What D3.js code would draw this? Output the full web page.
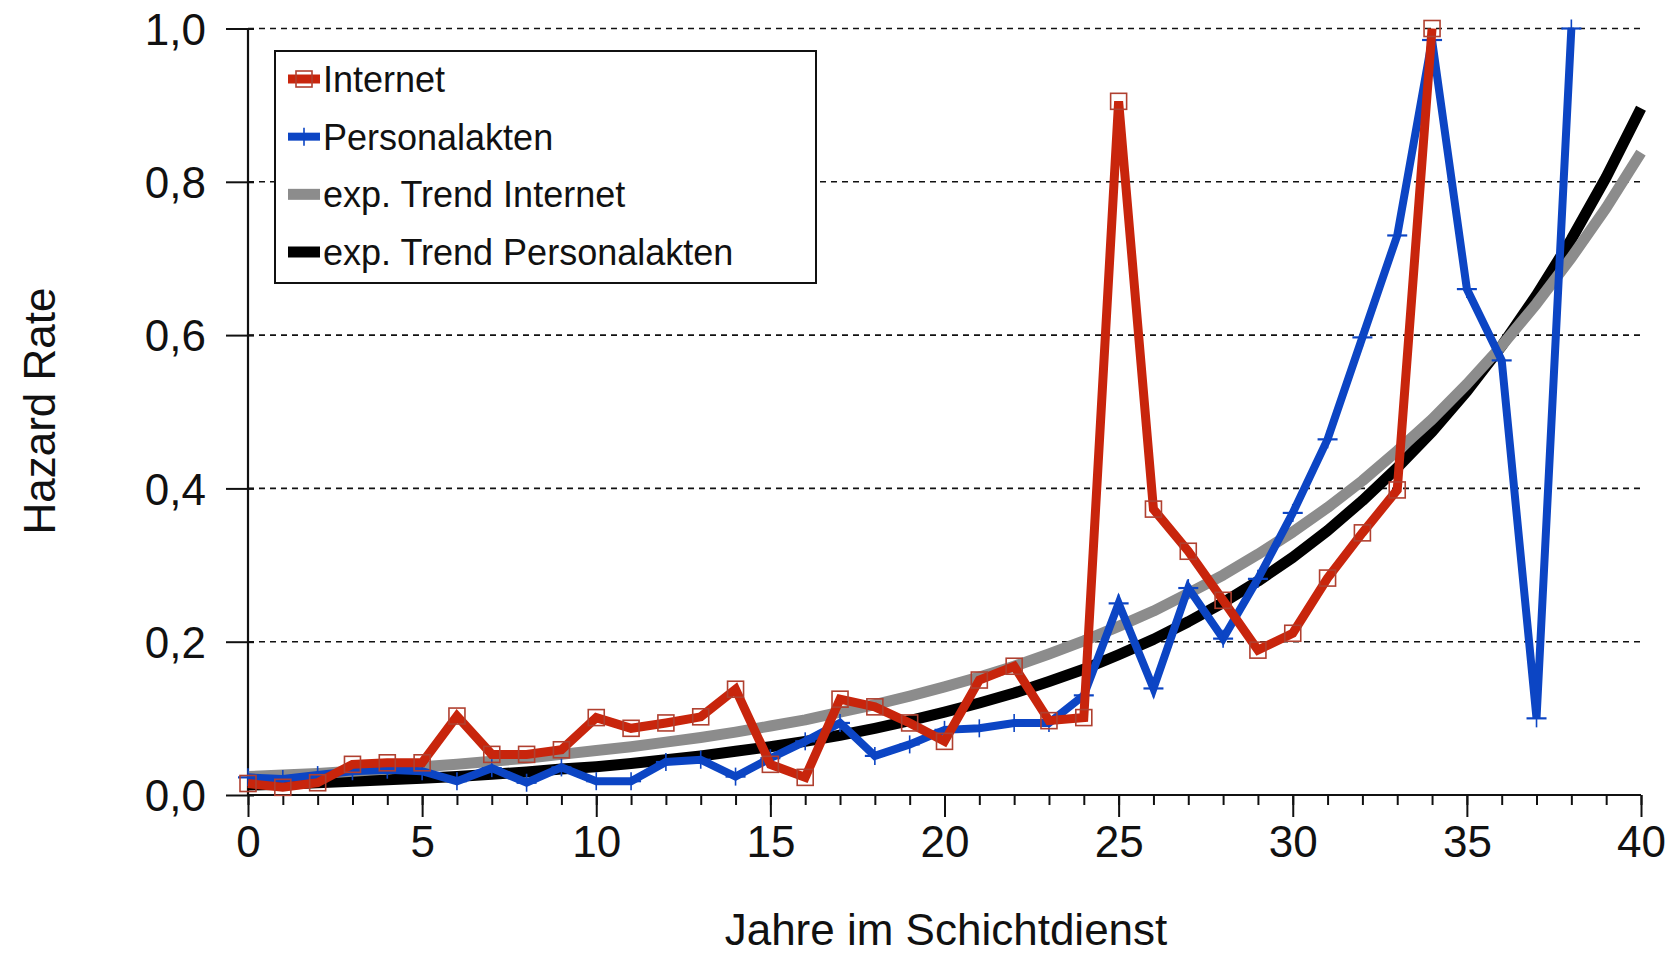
<!DOCTYPE html>
<html>
<head>
<meta charset="utf-8">
<script src="https://cdn.jsdelivr.net/npm/d3@7"></script>
<style>
  html, body { margin: 0; padding: 0; background: #fff; }
  svg { display: block; }
  text { font-family: "Liberation Sans", Arial, sans-serif; fill: #111; }
</style>
</head>
<body>
<svg id="chart" width="1674" height="957"></svg>
<script>
// Years of shift work (0..40)
const years = d3.range(0, 41);

// Hazard rates per year, source: Internet
const internet = [0.015, 0.010, 0.016, 0.040, 0.042, 0.042, 0.103, 0.053, 0.053, 0.059,
                  0.101, 0.087, 0.094, 0.102, 0.138, 0.040, 0.023, 0.125, 0.115, 0.094,
                  0.070, 0.150, 0.168, 0.097, 0.101, 0.905, 0.373, 0.318, 0.254, 0.189,
                  0.211, 0.283, 0.342, 0.398, 1.000];

// Hazard rates per year, source: Personalakten
const personalakten = [0.023, 0.021, 0.026, 0.031, 0.033, 0.031, 0.018, 0.035, 0.016, 0.036,
                       0.018, 0.018, 0.043, 0.046, 0.024, 0.048, 0.070, 0.094, 0.051, 0.066,
                       0.085, 0.087, 0.094, 0.094, 0.130, 0.250, 0.139, 0.270, 0.204, 0.282,
                       0.368, 0.464, 0.597, 0.730, 0.985, 0.660, 0.567, 0.100, 1.000];

// Exponential trend lines, one value per year
const trendInternet = [0.024, 0.026, 0.028, 0.031, 0.034, 0.037, 0.040, 0.044, 0.048, 0.053,
                       0.058, 0.063, 0.069, 0.075, 0.082, 0.090, 0.098, 0.108, 0.118, 0.129,
                       0.141, 0.154, 0.168, 0.184, 0.201, 0.220, 0.240, 0.263, 0.287, 0.314,
                       0.343, 0.375, 0.410, 0.449, 0.490, 0.536, 0.586, 0.641, 0.701, 0.766,
                       0.838];
const trendPersonalakten = [0.013, 0.014, 0.016, 0.018, 0.020, 0.022, 0.024, 0.027, 0.030, 0.034,
                            0.037, 0.041, 0.046, 0.051, 0.057, 0.063, 0.070, 0.078, 0.087, 0.097,
                            0.108, 0.120, 0.133, 0.148, 0.164, 0.183, 0.203, 0.226, 0.251, 0.279,
                            0.310, 0.345, 0.384, 0.427, 0.474, 0.527, 0.586, 0.652, 0.725, 0.806,
                            0.896];

// Axis tick values and labels
const xTicksMajor = [0, 5, 10, 15, 20, 25, 30, 35, 40];
const yTicks = [0, 0.2, 0.4, 0.6, 0.8, 1.0];
const yGrid = [0.2, 0.4, 0.6, 0.8, 1.0];
const legendLabels = ["Internet", "Personalakten", "exp. Trend Internet", "exp. Trend Personalakten"];

const colors = {
  internet: "#c8250c",
  internetMarker: "#b04030",
  personal: "#0c45c4",
  trendInternet: "#8c8c8c",
  trendPersonal: "#000000"
};

const svg = d3.select("#chart");

const x = d3.scaleLinear().domain([0, 40]).range([248, 1641]);
const y = d3.scaleLinear().domain([0, 1]).range([795, 28.5]);

// Dashed horizontal gridlines
svg.append("g")
  .selectAll("line")
  .data(yGrid)
  .join("line")
  .attr("x1", x(0)).attr("x2", x(40))
  .attr("y1", d => y(d)).attr("y2", d => y(d))
  .attr("stroke", "#111")
  .attr("stroke-width", 1.6)
  .attr("stroke-dasharray", "6,5");

// X axis: minor ticks every year, long ticks every five years
const xAxisMinor = d3.axisBottom(x).tickValues(years).tickSize(10).tickFormat("");
const xAxisMajor = d3.axisBottom(x).tickValues(xTicksMajor).tickSize(22).tickPadding(8)
  .tickFormat(d3.format("d"));

const gxMinor = svg.append("g").attr("transform", `translate(0,${y(0)})`).call(xAxisMinor);
gxMinor.select(".domain").remove();
gxMinor.selectAll("line").attr("stroke", "#111").attr("stroke-width", 2);

const gxMajor = svg.append("g").attr("transform", `translate(0,${y(0)})`).call(xAxisMajor);
gxMajor.select(".domain").attr("stroke", "#111").attr("stroke-width", 2.2)
  .attr("d", `M${x(0)},0H${x(40)}`);
gxMajor.selectAll("line").attr("stroke", "#111").attr("stroke-width", 2);
gxMajor.selectAll("text")
  .attr("font-size", 44)
  .attr("dy", "0.71em")
  .attr("y", 31);

// Y axis with comma decimal separator
const commaFmt = d => d3.format(".1f")(d).replace(".", ",");
const yAxis = d3.axisLeft(y).tickValues(yTicks).tickSize(22).tickPadding(20).tickFormat(commaFmt);
const gy = svg.append("g").attr("transform", `translate(${x(0)},0)`).call(yAxis);
gy.select(".domain").attr("stroke", "#111").attr("stroke-width", 2.2)
  .attr("d", `M0,${y(0)}V${y(1)}`);
gy.selectAll("line").attr("stroke", "#111").attr("stroke-width", 2).attr("x2", -22).attr("x1", 6);
gy.selectAll("text").attr("font-size", 44).attr("dy", "0.36em");

// Axis titles
svg.append("text")
  .attr("x", 946).attr("y", 945)
  .attr("text-anchor", "middle")
  .attr("font-size", 44)
  .text("Jahre im Schichtdienst");

svg.append("text")
  .attr("transform", `translate(55,411) rotate(-90)`)
  .attr("text-anchor", "middle")
  .attr("font-size", 44)
  .text("Hazard Rate");

const line = d3.line().x((d, i) => x(i)).y(d => y(d));
const plot = svg.append("g");

// Trend curves
plot.append("path").datum(trendPersonalakten)
  .attr("d", line).attr("fill", "none")
  .attr("stroke", colors.trendPersonal).attr("stroke-width", 11)
  .attr("stroke-linejoin", "round");
plot.append("path").datum(trendInternet)
  .attr("d", line).attr("fill", "none")
  .attr("stroke", colors.trendInternet).attr("stroke-width", 11)
  .attr("stroke-linejoin", "round");

// Personalakten series with plus-shaped markers
plot.append("path").datum(personalakten)
  .attr("d", line).attr("fill", "none")
  .attr("stroke", colors.personal).attr("stroke-width", 8)
  .attr("stroke-linejoin", "miter");
const pm = plot.append("g").selectAll("g")
  .data(personalakten)
  .join("g")
  .attr("transform", (d, i) => `translate(${x(i)},${y(d)})`);
pm.append("line").attr("x1", -10).attr("x2", 10).attr("y1", 0).attr("y2", 0)
  .attr("stroke", colors.personal).attr("stroke-width", 2.2);
pm.append("line").attr("x1", 0).attr("x2", 0).attr("y1", -9).attr("y2", 9)
  .attr("stroke", colors.personal).attr("stroke-width", 1.6);

// Internet series with hollow square markers
plot.append("path").datum(internet)
  .attr("d", line).attr("fill", "none")
  .attr("stroke", colors.internet).attr("stroke-width", 9)
  .attr("stroke-linejoin", "miter");
plot.append("g").selectAll("rect")
  .data(internet)
  .join("rect")
  .attr("x", (d, i) => x(i) - 8).attr("y", d => y(d) - 8)
  .attr("width", 16).attr("height", 16)
  .attr("fill", "none")
  .attr("stroke", colors.internetMarker).attr("stroke-width", 1.6);

// Legend
const legend = svg.append("g");
legend.append("rect")
  .attr("x", 275).attr("y", 51).attr("width", 541).attr("height", 232)
  .attr("fill", "#fff").attr("stroke", "#111").attr("stroke-width", 2);

const legendStyles = [
  { color: colors.internet, width: 9, marker: "square" },
  { color: colors.personal, width: 8, marker: "plus" },
  { color: colors.trendInternet, width: 11, marker: null },
  { color: colors.trendPersonal, width: 11, marker: null }
];
const legendRowY = d3.scalePoint().domain(legendLabels).range([79, 252]);

const rows = legend.selectAll("g.row")
  .data(legendLabels)
  .join("g")
  .attr("class", "row")
  .attr("transform", d => `translate(0,${legendRowY(d)})`);

rows.append("line")
  .attr("x1", 288).attr("x2", 320).attr("y1", 0).attr("y2", 0)
  .attr("stroke", (d, i) => legendStyles[i].color)
  .attr("stroke-width", (d, i) => legendStyles[i].width);

rows.filter((d, i) => legendStyles[i].marker === "square")
  .append("rect")
  .attr("x", 296).attr("y", -8).attr("width", 16).attr("height", 16)
  .attr("fill", "none").attr("stroke", colors.internetMarker).attr("stroke-width", 1.6);

rows.filter((d, i) => legendStyles[i].marker === "plus")
  .append("line")
  .attr("x1", 304).attr("x2", 304).attr("y1", -9).attr("y2", 9)
  .attr("stroke", colors.personal).attr("stroke-width", 1.6);

rows.append("text")
  .attr("x", 323).attr("y", 0).attr("dy", "0.36em")
  .attr("font-size", 36)
  .text(d => d);
</script>
</body>
</html>
